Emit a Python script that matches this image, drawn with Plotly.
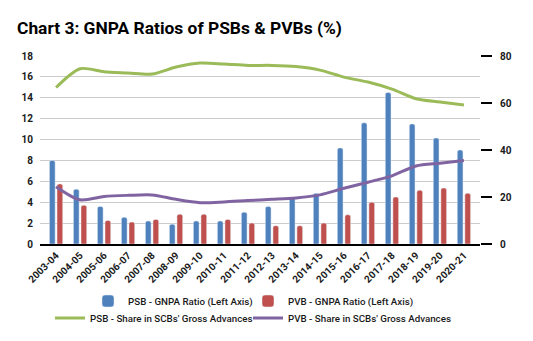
import plotly.graph_objects as go

years = ["2003-04", "2004-05", "2005-06", "2006-07", "2007-08", "2008-09", "2009-10",
         "2010-11", "2011-12", "2012-13", "2013-14", "2014-15", "2015-16", "2016-17",
         "2017-18", "2018-19", "2019-20", "2020-21"]
psb_gnpa = [8.0, 5.25, 3.6, 2.55, 2.2, 1.9, 2.2, 2.2, 3.05, 3.6, 4.4, 4.85, 9.2, 11.6, 14.5, 11.5, 10.15, 9.0]
pvb_gnpa = [5.75, 3.7, 2.25, 2.1, 2.35, 2.85, 2.85, 2.35, 2.0, 1.75, 1.75, 2.0, 2.8, 4.0, 4.5, 5.15, 5.35, 4.85]
psb_share = [66.6, 74.6, 73.3, 72.8, 72.3, 75.3, 77.0, 76.6, 76.0, 76.0, 75.5, 74.0, 71.0, 68.9, 65.9, 61.8, 60.4, 59.1]
pvb_share = [24.4, 18.8, 20.2, 20.7, 20.9, 19.0, 17.6, 17.9, 18.5, 19.0, 19.6, 20.9, 23.7, 26.3, 29.0, 33.2, 34.4, 35.5]

BLUE = "#4F81BD"
RED = "#C0504D"
GREEN = "#9BBB59"
PURPLE = "#8064A2"

tickfont = dict(family="Roboto", size=10, color="#1a1a1a", weight="bold")
legfont = dict(family="Roboto", size=9.75, color="#1a1a1a", weight=500)

fig = go.Figure()
fig.add_trace(go.Bar(x=years, y=psb_gnpa, name="PSB - GNPA Ratio (Left Axis)",
                     marker=dict(color=BLUE, cornerradius=2), legend="legend", showlegend=True))
fig.add_trace(go.Bar(x=years, y=pvb_gnpa, name="PVB - GNPA Ratio (Left Axis)",
                     marker=dict(color=RED, cornerradius=2), legend="legend3", showlegend=True))
fig.add_trace(go.Scatter(x=years, y=psb_share, name="PSB - Share in SCBs' Gross Advances",
                         mode="lines", line=dict(color=GREEN, width=3, shape="spline", smoothing=0.8),
                         yaxis="y2", legend="legend2", showlegend=True))
fig.add_trace(go.Scatter(x=years, y=pvb_share, name="PVB - Share in SCBs' Gross Advances",
                         mode="lines", line=dict(color=PURPLE, width=3, shape="spline", smoothing=0.8),
                         yaxis="y2", legend="legend4", showlegend=True))

W, H = 533, 341
L, R, T, B = 40, 53, 56, 97
pw = W - L - R
ph = H - T - B

def px_x(x):
    return (x - L) / pw

def px_y(y):
    return (H - B - y) / ph

def leg(xpx, ypx):
    return dict(orientation="h", x=px_x(xpx), xanchor="left", y=px_y(ypx), yanchor="middle",
                font=legfont, bgcolor="rgba(0,0,0,0)", visible=True)

fig.update_layout(
    width=W, height=H,
    showlegend=True,
    margin=dict(l=L, r=R, t=T, b=B, pad=0, autoexpand=False),
    paper_bgcolor="white", plot_bgcolor="white",
    barmode="group", bargap=0.367, bargroupgap=0.25,
    title=dict(text="<b>Chart 3: GNPA Ratios of PSBs & PVBs (%)</b>",
               font=dict(family="Roboto", size=17.4, color="#000000"),
               x=17 / W, xanchor="left", xref="container",
               y=1 - 28 / H, yanchor="middle", yref="container"),
    xaxis=dict(type="category", range=[-0.67, 17.67], tickangle=-45, tickfont=tickfont,
               showline=True, linecolor="#000000", linewidth=1.5, showgrid=False,
               ticks="", automargin=False),
    yaxis=dict(range=[0, 18], dtick=2, tickfont=tickfont, showgrid=True,
               gridcolor="#cccccc", gridwidth=1, zeroline=False, showline=False,
               ticks="", ticklabelstandoff=6, automargin=False),
    yaxis2=dict(range=[0, 80], dtick=20, overlaying="y", side="right", tickfont=tickfont,
                showgrid=False, zeroline=False, showline=False, ticks="outside",
                ticklen=11, tickcolor="#000000", tickwidth=1.5, ticklabelstandoff=6,
                automargin=False),
    legend=leg(88, 301),
    legend3=leg(248, 301),
    legend2=leg(50, 318),
    legend4=leg(248, 318),
)

fig.write_html("out.html")
